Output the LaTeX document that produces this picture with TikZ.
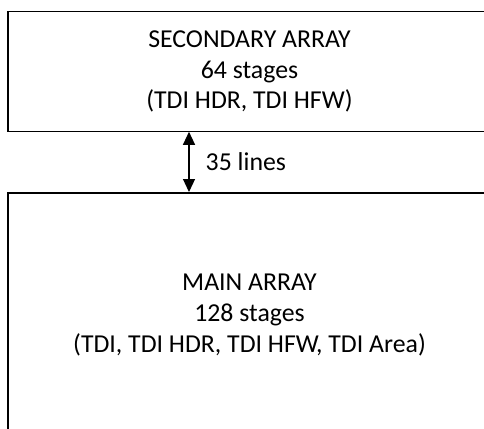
\documentclass[tikz,border=0pt]{standalone}
\usepackage{fontspec}
\setmainfont{Carlito}
\usetikzlibrary{arrows.meta}
\tikzset{
  arraybox/.style={draw=black, line width=1.2pt, rectangle, inner sep=0pt,
    minimum width=483pt, align=center, font=\fontsize{25.8}{30.6}\selectfont},
  linkarrow/.style={line width=1.2pt, {Triangle[width=12pt,length=13pt]}-{Triangle[width=12pt,length=13pt]}},
  linklabel/.style={font=\fontsize{25.8}{30.6}\selectfont, anchor=west, inner sep=0pt}
}
\begin{document}
\begin{tikzpicture}[x=1pt, y=-1pt]
  \useasboundingbox (0,0) rectangle (484,428);
  \clip (0,0) rectangle (484,428);
  % upper array
  \node[arraybox, minimum height=120pt] (secondary) at (249.5,71.8)
    {SECONDARY ARRAY\\64 stages\\(TDI HDR, TDI HFW)};
  % lower array, running past the frame
  \node[arraybox, minimum height=244pt] (main) at (249.5,315)
    {MAIN ARRAY\\128 stages\\(TDI, TDI HDR, TDI HFW, TDI Area)};
  % spacing between the arrays
  \coordinate (top) at (189,131.8);
  \coordinate (bot) at (189,192);
  \draw[linkarrow] (top) -- (bot);
  \node[linklabel] (gap) at (205.5,162) {35 lines};
\end{tikzpicture}
\end{document}
